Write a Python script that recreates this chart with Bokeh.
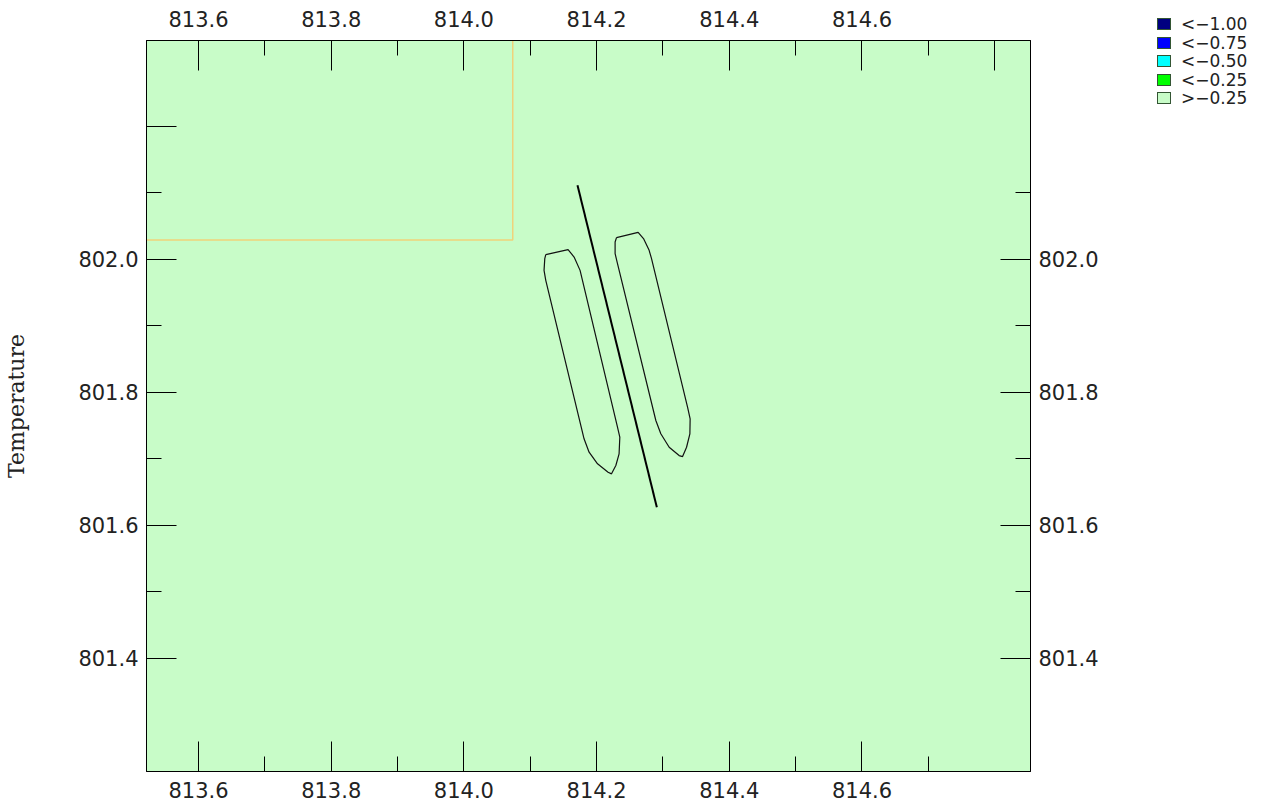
import html
from bokeh.plotting import figure
from bokeh.layouts import row
from bokeh.models import LinearAxis, FixedTicker, Div
from bokeh.embed import file_html
from bokeh.resources import INLINE

# ---------------- data ----------------
x_range = (813.5216, 814.854)
y_range = (801.230, 802.329)

top_major = [813.6, 813.8, 814.0, 814.2, 814.4, 814.6, 814.8]
top_minor = [813.7, 813.9, 814.1, 814.3, 814.5, 814.7]
top_labels = ["813.6", "813.8", "814.0", "814.2", "814.4", "814.6", ""]
bottom_major = [813.6, 813.8, 814.0, 814.2, 814.4, 814.6]
bottom_minor = [813.7, 813.9, 814.1, 814.3, 814.5, 814.7]
bottom_labels = ["813.6", "813.8", "814.0", "814.2", "814.4", "814.6"]
left_major = [801.4, 801.6, 801.8, 802.0, 802.2]
left_minor = [801.5, 801.7, 801.9, 802.1]
left_labels = ["801.4", "801.6", "801.8", "802.0", ""]
right_major = [801.4, 801.6, 801.8, 802.0]
right_minor = [801.5, 801.7, 801.9, 802.1]
right_labels = ["801.4", "801.6", "801.8", "802.0"]

# orange boundary (right and bottom edges of a box in the upper left)
box_x = [813.5216, 814.0736, 814.0736]
box_y = [802.029, 802.029, 802.329]

# black straight segment
seg_x = [814.1712, 814.2908]
seg_y = [802.1114, 801.6272]

# contour outlines
left_cx = [814.1234, 814.1570, 814.1661, 814.1751, 814.1787, 814.2315, 814.2350,
           814.2339, 814.2290, 814.2225, 814.2173, 814.2014, 814.1887, 814.1811,
           814.1234, 814.1208, 814.1219, 814.1234]
left_cy = [802.0071, 802.0146, 802.0035, 801.9834, 801.9684, 801.7476, 801.7326,
           801.7076, 801.6900, 801.6775, 801.6799, 801.6926, 801.7100, 801.7302,
           801.9684, 801.9834, 802.0011, 802.0071]
right_cx = [814.2300, 814.2626, 814.2707, 814.2792, 814.2828, 814.3371, 814.3410,
            814.3406, 814.3356, 814.3296, 814.3244, 814.3094, 814.2968, 814.2893,
            814.2315, 814.2279, 814.2279, 814.2300]
right_cy = [802.0327, 802.0406, 802.0312, 802.0135, 802.0011, 801.7777, 801.7603,
            801.7377, 801.7175, 801.7035, 801.7050, 801.7175, 801.7377, 801.7577,
            801.9935, 802.0086, 802.0260, 802.0327]

level_labels = ["<\u22121.00", "<\u22120.75", "<\u22120.50", "<\u22120.25", ">\u22120.25"]
level_colors = ["#000080", "#0000ff", "#00ffff", "#00ff00", "#c8fcc8"]

# ---------------- main figure ----------------
TICK_FONT = "DejaVu Sans"

p = figure(frame_width=884, frame_height=731,
           x_range=x_range, y_range=y_range,
           x_axis_location=None, y_axis_location=None,
           output_backend="svg", toolbar_location=None,
           min_border_left=146, min_border_right=80,
           min_border_top=40, min_border_bottom=34,
           background_fill_color="#c8fcc8", border_fill_color="white",
           outline_line_color="black", outline_line_width=1)
p.grid.visible = False


def make_axis(major, minor, labels, standoff):
    ax = LinearAxis(ticker=FixedTicker(ticks=major, minor_ticks=minor))
    ax.major_label_overrides = {t: l for t, l in zip(major, labels)}
    ax.major_tick_in = 30
    ax.major_tick_out = 0
    ax.minor_tick_in = 15
    ax.minor_tick_out = 0
    ax.major_tick_line_color = "black"
    ax.minor_tick_line_color = "black"
    ax.axis_line_color = "black"
    ax.major_label_text_font = TICK_FONT
    ax.major_label_text_font_size = "21px"
    ax.major_label_text_color = "#222222"
    ax.major_label_standoff = standoff
    return ax


ax_top = make_axis(top_major, top_minor, top_labels, 14)
ax_bottom = make_axis(bottom_major, bottom_minor, bottom_labels, 10)
ax_left = make_axis(left_major, left_minor, left_labels, 8)
ax_right = make_axis(right_major, right_minor, right_labels, 8)
ax_left.axis_label = "Temperature"
ax_left.axis_label_text_font = "DejaVu Serif"
ax_left.axis_label_text_font_size = "22px"
ax_left.axis_label_text_font_style = "normal"
ax_left.axis_label_text_color = "#222222"
ax_left.axis_label_standoff = 46

p.add_layout(ax_top, "above")
p.add_layout(ax_bottom, "below")
p.add_layout(ax_left, "left")
p.add_layout(ax_right, "right")

p.line(box_x, box_y, line_color="#f0d27a", line_width=1.5)
p.line(left_cx, left_cy, line_color="#111111", line_width=1.2)
p.line(right_cx, right_cy, line_color="#111111", line_width=1.2)
p.line(seg_x, seg_y, line_color="black", line_width=2)

# ---------------- legend (HTML block beside the plot) ----------------
rows_html = []
for lab, col in zip(level_labels, level_colors):
    rows_html.append(
        '<div style="display:flex;align-items:center;height:18.5px;">'
        f'<span style="display:inline-block;box-sizing:border-box;width:14px;height:12px;'
        f'background:{col};border:1px solid #335533;margin-right:10px;"></span>'
        f'<span>{html.escape(lab)}</span></div>'
    )
legend_div = Div(
    text=('<div style="font-family:\'DejaVu Sans\';font-size:17px;color:#222222;'
          'line-height:18.5px;padding-top:15px;padding-left:47px;">'
          + "".join(rows_html) + '</div>'),
    width=150, height=130, margin=0)

layout = row(p, legend_div)
open("out.html", "w").write(file_html(layout, INLINE))
